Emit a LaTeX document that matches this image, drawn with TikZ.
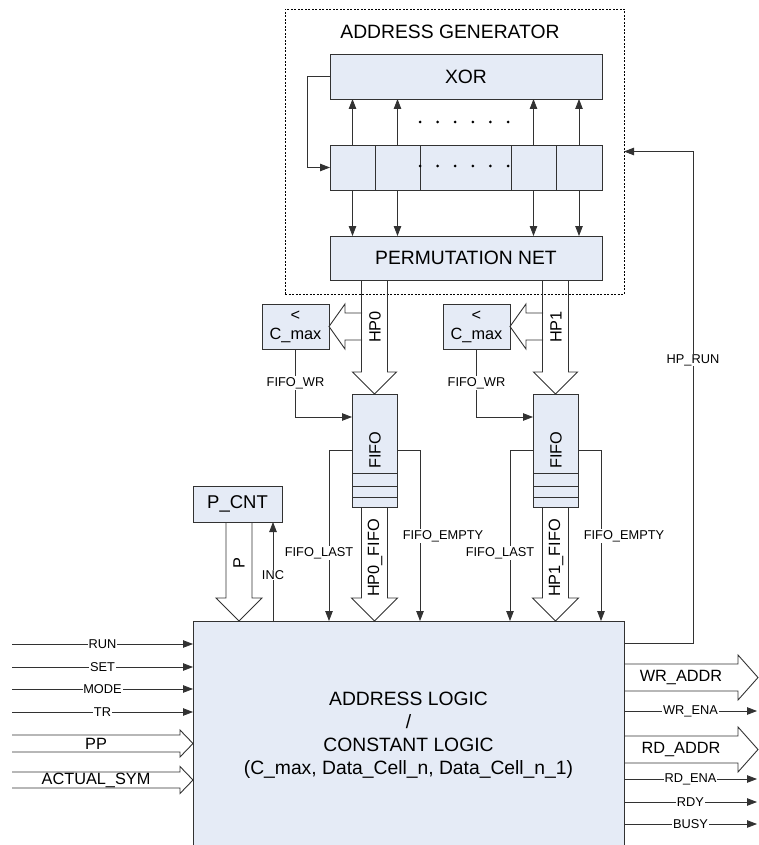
\documentclass[tikz,border=0pt]{standalone}
\usepackage{fontspec}
\setmainfont{Liberation Sans}
\usetikzlibrary{arrows.meta,calc}
\definecolor{boxfill}{RGB}{229,235,246}
\definecolor{linec}{RGB}{50,50,50}
\begin{document}
\begin{tikzpicture}[x=1pt,y=-1pt,
 blk/.style={draw=linec, fill=boxfill, line width=0.9pt, inner sep=0pt, outer sep=0pt, anchor=north west},
 big/.style={font=\fontsize{19.3}{22}\selectfont},
 mid/.style={font=\fontsize{16.3}{19}\selectfont},
 sml/.style={font=\fontsize{12.8}{14}\selectfont},
 lbl/.style={sml, fill=white, inner sep=0.8pt},
 sig/.style={draw=linec, line width=0.8pt, -{Triangle[length=10pt,width=7.5pt]}},
 wire/.style={draw=linec, line width=0.8pt},
 hollow/.style={draw=linec, line width=0.9pt},
 hdown/.style n args={3}{to path={let \p1=(\tikztostart),\p2=(\tikztotarget) in
   (\x2-#1,\y1) -- (\x2-#1,\y2+#3) -- (\x2-#2,\y2+#3) -- (\x2,\y2) -- (\x2+#2,\y2+#3) -- (\x2+#1,\y2+#3) -- (\x2+#1,\y1)}},
 hright/.style n args={3}{to path={let \p1=(\tikztostart),\p2=(\tikztotarget) in
   (\x1,\y2+#1) -- (\x2-#3,\y2+#1) -- (\x2-#3,\y2+#2) -- (\x2,\y2) -- (\x2-#3,\y2-#2) -- (\x2-#3,\y2-#1) -- (\x1,\y2-#1)}},
 hleft/.style n args={3}{to path={let \p1=(\tikztostart),\p2=(\tikztotarget) in
   (\x1,\y2+#1) -- (\x2+#3,\y2+#1) -- (\x2+#3,\y2+#2) -- (\x2,\y2) -- (\x2+#3,\y2-#2) -- (\x2+#3,\y2-#1) -- (\x1,\y2-#1)}},
]
\useasboundingbox (0,0) rectangle (758,845);

% address generator
\node[draw=black, dash pattern=on 2pt off 1.5pt, line width=0.6pt, minimum width=339pt, minimum height=285pt, anchor=north west, inner sep=0pt, outer sep=0pt] (gen) at (285,9) {};
\node[big] (gentitle) at (450,32) {ADDRESS GENERATOR};
\node[blk,big,minimum width=272pt,minimum height=45pt] (xor) at (330,54) {XOR};
\node[blk,minimum width=45pt,minimum height=45pt] (r1) at (330,145) {};
\node[blk,minimum width=45pt,minimum height=45pt] (r2) at (375,145) {};
\node[blk,minimum width=91pt,minimum height=45pt] (r3) at (420,145) {};
\node[blk,minimum width=45pt,minimum height=45pt] (r4) at (511,145) {};
\node[blk,minimum width=46pt,minimum height=45pt] (r5) at (556,145) {};
\node[blk,big,minimum width=272pt,minimum height=44pt] (perm) at (330,236) {PERMUTATION NET};
\foreach \r in {r1,r2,r4,r5} {
  \draw[sig] (\r.north) -- (\r.north |- xor.south);
  \draw[sig] (\r.south) -- (\r.south |- perm.north);
}
\foreach \i in {0,...,5} {
  \fill (420+17.6*\i,122) circle (1.5pt);
  \fill (420+17.6*\i,166) circle (1.5pt);
}
\coordinate (fb) at (307,0);
\draw[sig] (xor.west) -- (xor.west -| fb) |- (r1.west);

% logic block
\node[blk,font=\fontsize{19.3}{23}\selectfont,minimum width=431pt,minimum height=229pt,align=center] (logic) at (193,621)
  {ADDRESS LOGIC\\/\\CONSTANT LOGIC\\(C\_max, Data\_Cell\_n, Data\_Cell\_n\_1)};

% two FIFO columns
\foreach \o/\k in {0/0,181/1} {
  \node[blk,mid,minimum width=67pt,minimum height=45pt,align=center] (cmax\k) at (262+\o,304) {<\\C\_max};
  \node[blk,minimum width=45pt,minimum height=113pt] (fifo\k) at (352+\o,394) {};
  \draw[wire] ([yshift=-79pt]fifo\k.north west) -- ([yshift=-79pt]fifo\k.north east);
  \draw[wire] ([yshift=-92pt]fifo\k.north west) -- ([yshift=-92pt]fifo\k.north east);
  \draw[wire] ([yshift=-103pt]fifo\k.north west) -- ([yshift=-103pt]fifo\k.north east);
  \node[mid,rotate=90] (fifot\k) at (375+\o,450) {FIFO};
  \coordinate (hpx\k) at (375+\o,0);
  \coordinate (hpl\k) at (362+\o,0);
  \draw[hollow] (perm.south -| hpx\k) to[hdown={13pt}{22pt}{22pt}] (fifo\k.north);
  \draw[hollow] (hpl\k |- cmax\k.east) to[hleft={13.5pt}{22.5pt}{16pt}] (cmax\k.east);
  \node[mid,rotate=90] (hpt\k) at (375+\o,327) {HP\k};
  \draw[sig] (cmax\k.south) |- ([yshift=-23pt]fifo\k.north west) node[pos=0.25,lbl] {FIFO\_WR};
  \coordinate (fl\k) at (329+\o,0);
  \coordinate (fe\k) at (420+\o,0);
  \draw[sig] (fifo\k.west) -| (fl\k |- logic.north);
  \draw[sig] (fifo\k.east) -| (fe\k |- logic.north);
  \node[lbl] (flt\k) at (319+\o,553) {FIFO\_LAST};
  \node[lbl] (fet\k) at (443+\o,536) {FIFO\_EMPTY};
  \draw[hollow] (fifo\k.south) to[hdown={13pt}{23pt}{23pt}] (fifo\k.south |- logic.north);
  \node[mid,rotate=90] (hpft\k) at (375+\o,558) {HP\k\_FIFO};
}

% P counter
\node[blk,font=\fontsize{18.5}{22}\selectfont,minimum width=89pt,minimum height=36pt] (pcnt) at (193,486) {P\_CNT};
\coordinate (px) at (239,0);
\draw[hollow] (px |- pcnt.south) to[hdown={13pt}{23pt}{23pt}] (px |- logic.north);
\node[mid,rotate=90] (pt) at (239,563) {P};
\coordinate (incx) at (273,0);
\draw[sig] (incx |- logic.north) -- (incx |- pcnt.south);
\node[lbl] (inct) at (273,575) {INC};

% HP_RUN
\coordinate (hpr) at (693,643);
\draw[sig] (hpr -| logic.east) -- (hpr) |- (gen.east);
\node[lbl] (hprt) at (693,360) {HP\_RUN};

% inputs
\foreach \nm/\yy in {RUN/644,SET/667,MODE/689,TR/712} {
  \coordinate (in\nm) at (12,\yy);
  \draw[sig] (in\nm) -- (in\nm -| logic.west) node[midway,lbl] {\nm};
}
\coordinate (ppS) at (12,743.5);
\draw[hollow] (ppS) to[hright={8.5pt}{13.5pt}{13pt}] (ppS -| logic.west);
\node[mid] (ppt) at (96,743.5) {PP};
\coordinate (asS) at (12,780);
\draw[hollow] (asS) to[hright={8pt}{13.5pt}{13pt}] (asS -| logic.west);
\node[mid] (ast) at (96,780) {ACTUAL\_SYM};

% outputs
\coordinate (wrE) at (758,677.5);
\draw[hollow] (wrE -| logic.east) to[hright={13.5pt}{22.5pt}{20pt}] (wrE);
\node[mid] (wrt) at (681,678) {WR\_ADDR};
\coordinate (rdE) at (758,749.5);
\draw[hollow] (rdE -| logic.east) to[hright={13.5pt}{22.5pt}{20pt}] (rdE);
\node[mid] (rdt) at (681,750) {RD\_ADDR};
\foreach \nm/\yy in {WR\_ENA/711,RD\_ENA/779,RDY/802,BUSY/824} {
  \coordinate (o) at (757,\yy);
  \draw[sig] (o -| logic.east) -- (o) node[midway,lbl] {\nm};
}
\end{tikzpicture}
\end{document}
